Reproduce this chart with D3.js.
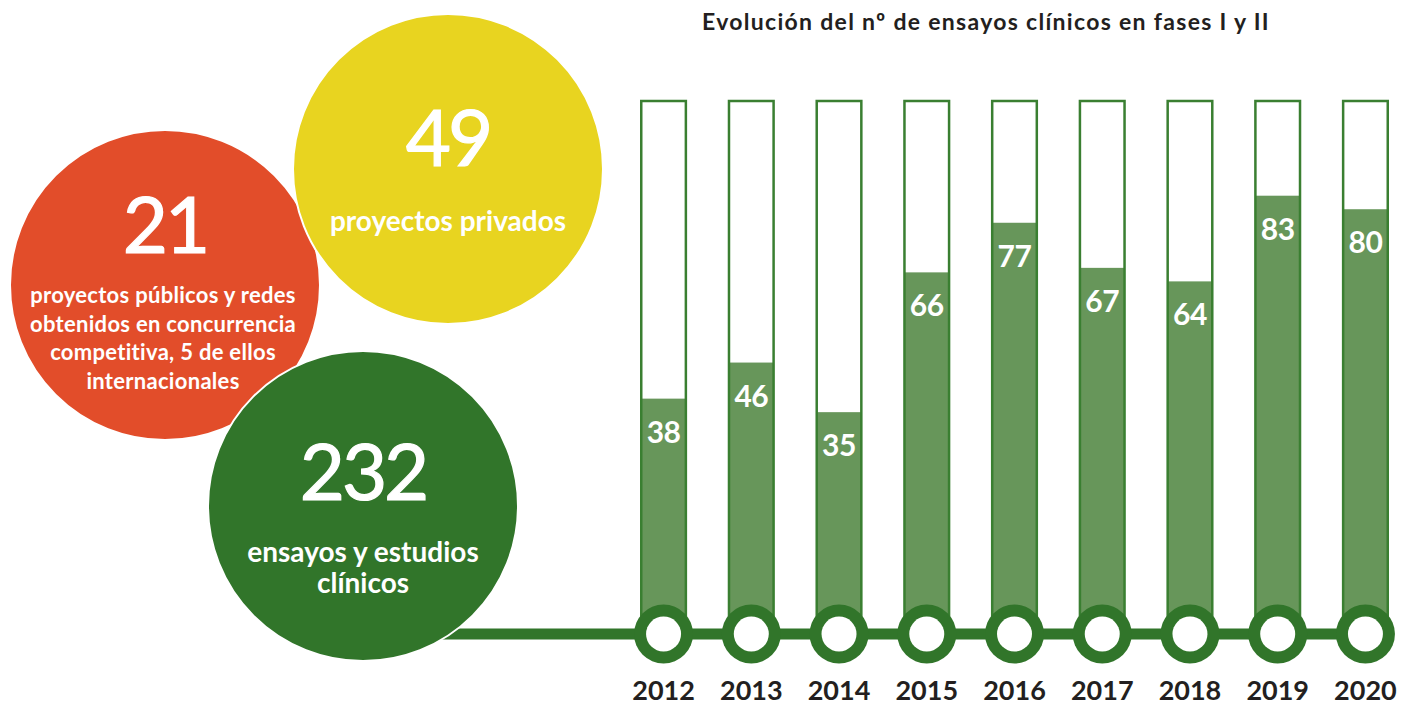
<!doctype html>
<html>
<head>
    <meta charset="utf-8">
    <title>Ensayos clínicos</title>
    <script src="https://d3js.org/d3.v7.min.js"></script>
    <style>
        body { margin: 0; background: #fff; }
        svg { display: block; font-family: Lato, "Noto Sans", sans-serif; }
    </style>
</head>
<body>
    <script>
        // data
        var years = ["2012", "2013", "2014", "2015", "2016", "2017", "2018", "2019", "2020"];
        var trials = [38, 46, 35, 66, 77, 67, 64, 83, 80];

        var bubbleNumbers = [21, 49, 232];
        var bubbleLines = [
            ["proyectos públicos y redes", "obtenidos en concurrencia", "competitiva, 5 de ellos", "internacionales"],
            ["proyectos privados"],
            ["ensayos y estudios", "clínicos"]
        ];
        var bubbleColors = ["#e24d2a", "#e8d420", "#31752a"];

        var title = "Evolución del nº de ensayos clínicos en fases I y II";

        var width = 1405, height = 706;
        var svg = d3.select("body").append("svg")
            .attr("width", width)
            .attr("height", height);

        var x = d3.scaleBand()
            .domain(years)
            .range([640, 1389])
            .paddingInner(0.463)
            .paddingOuter(0);

        var y = d3.scaleLinear()
            .domain([0, 104])
            .range([570, 101]);

        var baseY = 634;   // timeline
        var green = "#31752a";

        // bubbles (red, yellow, green - in stacking order)
        var bubblePos = [[165, 285], [448, 169], [363, 506]];
        var bubbleR = 155;

        // timeline (behind the green bubble)
        svg.append("line")
            .attr("x1", bubblePos[2][0]).attr("x2", x("2020") + x.bandwidth() / 2)
            .attr("y1", baseY).attr("y2", baseY)
            .attr("stroke", green)
            .attr("stroke-width", 11);

        var bubbles = svg.selectAll("g.bubble")
            .data(bubbleNumbers)
            .enter().append("g")
            .attr("class", "bubble")
            .attr("transform", function(d, i) { return "translate(" + bubblePos[i][0] + "," + bubblePos[i][1] + ")"; });

        bubbles.append("circle")
            .attr("r", bubbleR)
            .attr("fill", function(d, i) { return bubbleColors[i]; })
            .attr("stroke", "#fff")
            .attr("stroke-width", 2);

        // big number
        var numY = [-32, -3, -6];
        bubbles.append("text")
            .attr("text-anchor", "middle")
            .attr("y", function(d, i) { return numY[i]; })
            .attr("fill", "#fff")
            .attr("font-size", 78)
            .attr("letter-spacing", -3)
            .attr("stroke", "#fff")
            .attr("stroke-width", 1.2)
            .text(function(d) { return d; });

        var lineStart = [18, 62, 56];
        var lineGap = [28.5, 30, 31];
        var lineSize = [22, 28, 28];
        bubbles.each(function(d, i) {
            var g = d3.select(this);
            bubbleLines[i].forEach(function(t, k) {
                g.append("text")
                    .attr("x", i == 0 ? -2 : 0)
                    .attr("text-anchor", "middle")
                    .attr("y", lineStart[i] + k * lineGap[i])
                    .attr("fill", "#fff")
                    .attr("font-weight", "bold")
                    .attr("font-size", lineSize[i])
                    .attr("letter-spacing", i == 0 ? 0.3 : 0)
                    .text(t);
            });
        });

        // bars
        var bars = svg.selectAll("g.bar")
            .data(years)
            .enter().append("g")
            .attr("class", "bar");

        bars.append("rect")
            .attr("x", function(d) { return x(d) + 1; })
            .attr("y", function(d, i) { return y(trials[i]); })
            .attr("width", x.bandwidth() - 2)
            .attr("height", function(d, i) { return baseY - y(trials[i]); })
            .attr("fill", "#67965a");

        bars.append("rect")
            .attr("x", function(d) { return x(d) + 1.25; })
            .attr("y", y(104))
            .attr("width", x.bandwidth() - 2.5)
            .attr("height", baseY - y(104))
            .attr("fill", "none")
            .attr("stroke", "#3a7f31")
            .attr("stroke-width", 2.5);

        bars.append("text")
            .attr("x", function(d) { return x(d) + x.bandwidth() / 2; })
            .attr("y", function(d, i) { return y(trials[i]) + 44; })
            .attr("text-anchor", "middle")
            .attr("fill", "#fff")
            .attr("font-weight", "bold")
            .attr("font-size", 30)
            .attr("letter-spacing", -0.5)
            .text(function(d, i) { return trials[i]; });

        // rings on the timeline
        bars.append("circle")
            .attr("cx", function(d) { return x(d) + x.bandwidth() / 2; })
            .attr("cy", baseY)
            .attr("r", 29.5)
            .attr("fill", green);

        bars.append("circle")
            .attr("cx", function(d) { return x(d) + x.bandwidth() / 2; })
            .attr("cy", baseY)
            .attr("r", 17.5)
            .attr("fill", "#fff");

        // year labels
        svg.selectAll("text.year")
            .data(years)
            .enter().append("text")
            .attr("class", "year")
            .attr("x", function(d) { return x(d) + x.bandwidth() / 2; })
            .attr("y", 700)
            .attr("text-anchor", "middle")
            .attr("fill", "#231f20")
            .attr("font-weight", "bold")
            .attr("font-size", 27)
            .text(function(d) { return d; });

        svg.append("text")
            .attr("x", 986)
            .attr("y", 30)
            .attr("text-anchor", "middle")
            .attr("fill", "#231f20")
            .attr("font-weight", "bold")
            .attr("font-size", 23)
            .attr("letter-spacing", 1.3)
            .text(title);
    </script>
</body>
</html>
